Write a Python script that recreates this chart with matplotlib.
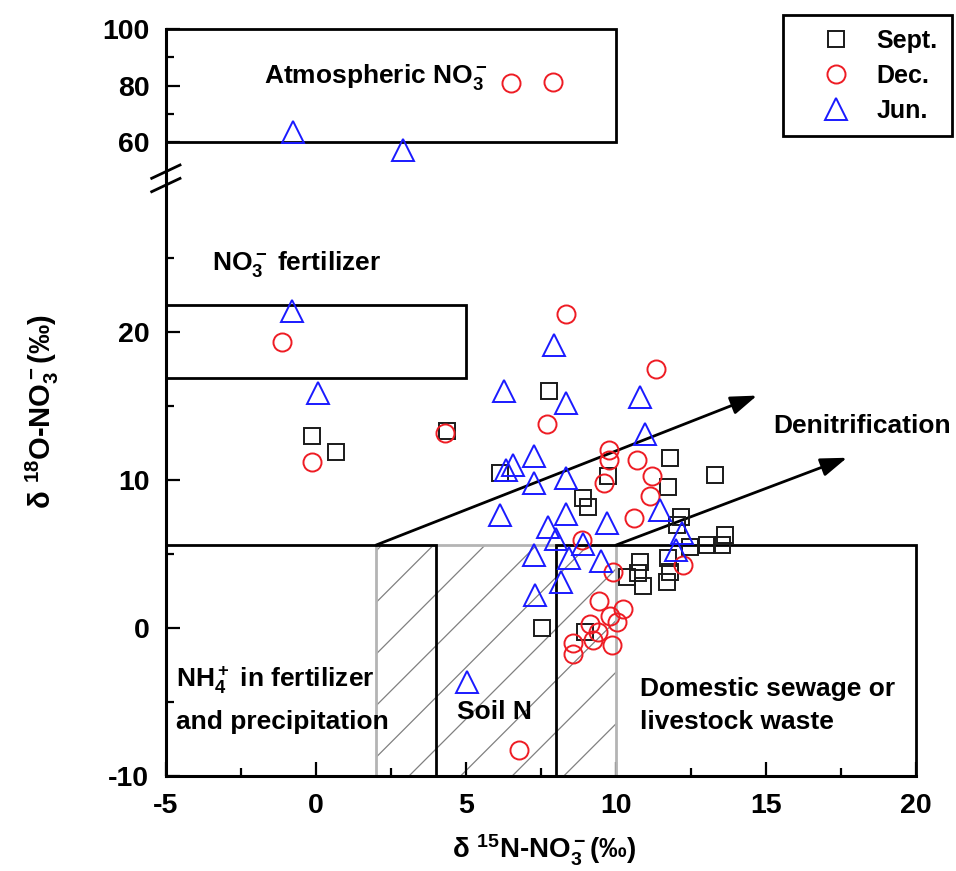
import matplotlib
matplotlib.use('Agg')
import matplotlib.pyplot as plt
from matplotlib.patches import Rectangle
from matplotlib.lines import Line2D
import numpy as np

plt.rcParams['font.family'] = ['Liberation Sans', 'DejaVu Sans']
plt.rcParams['font.weight'] = 'bold'
plt.rcParams['axes.unicode_minus'] = False
plt.rcParams['mathtext.fontset'] = 'custom'
plt.rcParams['mathtext.rm'] = 'Liberation Sans:bold'
plt.rcParams['mathtext.it'] = 'Liberation Sans:bold'
plt.rcParams['mathtext.bf'] = 'Liberation Sans:bold'
plt.rcParams['mathtext.default'] = 'rm'

# ---- data (d15N, d18O) ----
sep_x = [-0.12, 0.66, 4.36, 7.76, 6.13, 9.72, 11.79, 11.74, 13.3, 8.91, 9.06, 12.17, 12.02,
         13.63, 13.54, 13.02, 12.47, 10.8, 10.74, 10.36, 10.91, 11.69, 11.8, 11.74, 7.52, 8.97]
sep_y = [13.0, 11.9, 13.3, 16.0, 10.5, 10.25, 11.5, 9.5, 10.35, 8.76, 8.2, 7.5, 6.96,
         6.25, 5.6, 5.6, 5.5, 4.48, 3.7, 3.47, 2.85, 3.13, 3.8, 4.7, 0.0, -0.3]

dec_x_top = [6.5, 7.91]
dec_y_top = [80.9, 81.2]
dec_x = [-1.12, -0.12, 4.31, 8.32, 11.32, 7.7, 9.77, 9.77, 10.7, 9.61, 11.21, 11.13, 10.61,
         8.88, 12.24, 9.91, 9.44, 10.24, 9.8, 10.02, 9.13, 9.41, 9.24, 9.86, 8.58, 8.58, 6.78]
dec_y = [19.3, 11.2, 13.2, 21.2, 17.5, 13.8, 12.0, 11.35, 11.35, 9.8, 10.25, 8.9, 7.4,
         5.95, 4.26, 3.8, 1.84, 1.26, 0.81, 0.43, 0.25, -0.3, -0.8, -1.14, -1.03, -1.75, -8.24]

jun_x_top = [-0.78, 2.91]
jun_y_top = [63.3, 57.0]
jun_x = [-0.81, 0.08, 7.94, 6.28, 8.34, 10.79, 10.98, 7.28, 6.58, 6.33, 7.28, 8.34, 6.13, 11.47,
         8.32, 9.71, 7.74, 12.21, 8.0, 8.91, 7.28, 8.43, 9.5, 11.99, 8.16, 7.3, 5.02]
jun_y = [21.4, 15.9, 19.1, 16.0, 15.2, 15.6, 13.1, 11.6, 11.0, 10.7, 9.8, 10.1, 7.6, 8.0,
         7.7, 7.1, 6.85, 6.45, 6.0, 5.7, 4.93, 4.7, 4.5, 5.25, 3.1, 2.2, -3.67]

fig = plt.figure(figsize=(9.56, 8.71), dpi=100)
L, W = 166 / 956, 750 / 956
ax = fig.add_axes([L, 0.10907, W, 0.68657])
axt = fig.add_axes([L, 0.79564, W, 0.17072], sharex=ax)

for a in (ax, axt):
    a.spines['top'].set_visible(False)
    a.spines['right'].set_visible(False)
    a.spines['left'].set_linewidth(2.2)
    a.spines['bottom'].set_linewidth(2.2)
    a.tick_params(which='major', direction='in', length=10, width=1.6, labelsize=20.5, pad=12)
    a.tick_params(which='minor', direction='in', length=5.5, width=1.6)
axt.spines['bottom'].set_visible(False)
axt.tick_params(which='both', bottom=False, labelbottom=False)

ax.set_xlim(-5, 20)
ax.set_ylim(-10, 30.4)
axt.set_ylim(47.1, 100)
ax.set_xticks([-5, 0, 5, 10, 15, 20])
ax.set_xticks([-2.5, 2.5, 7.5, 12.5, 17.5], minor=True)
ax.set_yticks([-10, 0, 10, 20])
ax.set_yticks([-5, 5, 15, 25], minor=True)
axt.set_yticks([60, 80, 100])
axt.set_yticks([70, 90], minor=True)

# source boxes
axt.add_patch(Rectangle((-5, 60), 15, 40, fill=False, ec='black', lw=2, clip_on=False))
ax.add_patch(Rectangle((-5, 16.9), 10, 4.9, fill=False, ec='black', lw=2))
soil = Rectangle((2, -10), 8, 15.6, fill=False, ec='#b4b4b4', lw=2, zorder=2)
ax.add_patch(soil)
slope = 30 / 14.8
for x0 in np.arange(3.1 - 1.72 * 6, 10.5, 1.72):
    ln, = ax.plot([x0, x0 + 16 / slope], [-10, 6], color='#808080', lw=0.9, zorder=1)
    ln.set_clip_path(soil)
ax.add_patch(Rectangle((-5, -10), 9, 15.6, fill=False, ec='black', lw=2, zorder=3))
ax.add_patch(Rectangle((8, -10), 12, 15.6, fill=False, ec='black', lw=2, zorder=3, clip_on=False))

# denitrification arrows
arr = dict(arrowstyle='-|>,head_length=1.0,head_width=0.35', color='black', lw=2,
           mutation_scale=16, shrinkA=0, shrinkB=0)
ax.annotate('', xy=(14.7, 15.7), xytext=(2, 5.6), arrowprops=arr)
ax.annotate('', xy=(17.7, 11.5), xytext=(10, 5.6), arrowprops=arr)

# samples
mk = dict(ls='none', mfc='none', mew=1.4, zorder=5)
h1, = ax.plot(sep_x, sep_y, marker='s', ms=12, mec='#1a1a1a', label='Sept.', **mk)
h2, = ax.plot(dec_x, dec_y, marker='o', ms=13, mec='#ee1c24', label='Dec.', **mk)
h3, = ax.plot(jun_x, jun_y, marker='^', ms=15.5, mec='#1a1aff', label='Jun.', **mk)
axt.plot(dec_x_top, dec_y_top, marker='o', ms=13, mec='#ee1c24', **mk)
axt.plot(jun_x_top, jun_y_top, marker='^', ms=15.5, mec='#1a1aff', **mk)

# labels
fs = 19
axt.text(-1.73, 80.8, 'Atmospheric NO$_3^-$', fontsize=fs, fontweight='bold')
ax.text(-3.47, 24.2, 'NO$_3^-$ fertilizer', fontsize=fs, fontweight='bold')
ax.text(15.23, 13.2, 'Denitrification', fontsize=fs, fontweight='bold')
ax.text(-4.67, -4.0, 'NH$_4^+$ in fertilizer', fontsize=fs, fontweight='bold')
ax.text(-4.67, -6.8, 'and precipitation', fontsize=fs, fontweight='bold')
ax.text(4.69, -6.18, 'Soil N', fontsize=fs, fontweight='bold')
ax.text(10.8, -4.6, 'Domestic sewage or', fontsize=fs, fontweight='bold')
ax.text(10.8, -6.8, 'livestock waste', fontsize=fs, fontweight='bold')

fig.text(544 / 956, 1 - 850 / 871, 'δ $^{15}$N-NO$_3^-$(‰)', fontsize=20, fontweight='bold',
         ha='center', va='center')
fig.text(42 / 956, 1 - 412 / 871, 'δ $^{18}$O-NO$_3^-$(‰)', fontsize=21, fontweight='bold',
         ha='center', va='center', rotation=90)

# axis break marks
for dy in (0, 13.4):
    fig.add_artist(Line2D([151.7 / 956, 180 / 956], [1 - (178.3 + dy) / 871, 1 - (165 + dy) / 871],
                          transform=fig.transFigure, color='black', lw=2))

leg = fig.legend(handles=[h1, h2, h3], loc='upper left', bbox_to_anchor=(783 / 956, 1 - 15 / 871),
                 borderaxespad=0, frameon=True, fancybox=False, edgecolor='black', framealpha=1,
                 prop={'size': 18, 'weight': 'bold'}, handlelength=3.1, handletextpad=0.1,
                 labelspacing=0.44, borderpad=0.55)
leg.get_frame().set_linewidth(2)

fig.savefig('out.png', dpi=100)
